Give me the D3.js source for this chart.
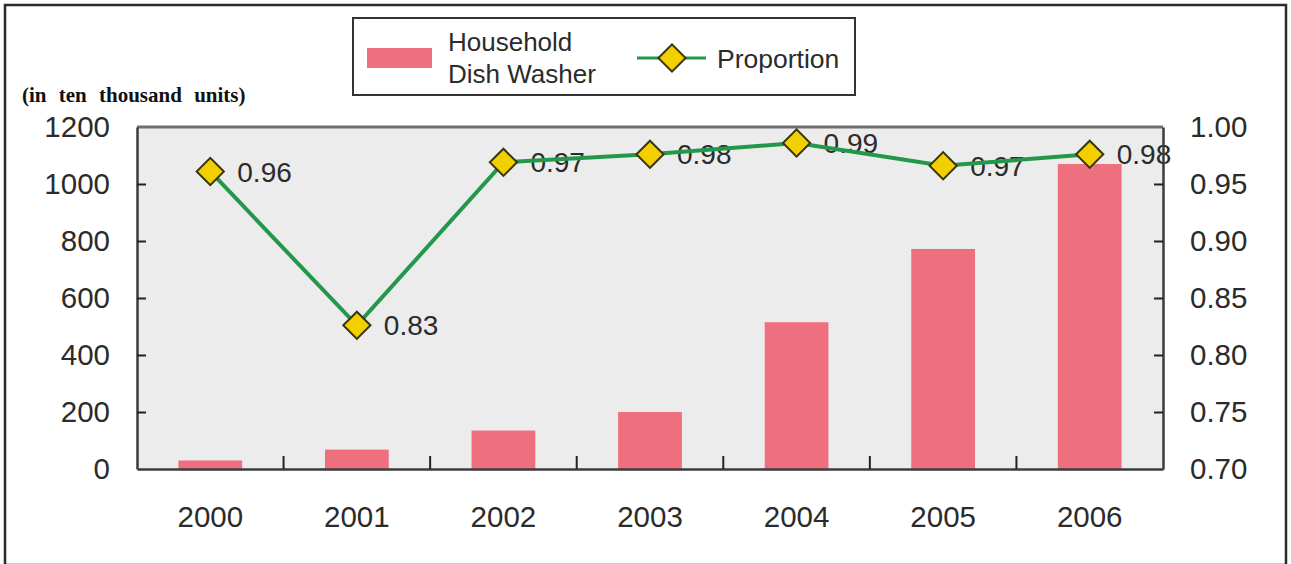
<!DOCTYPE html>
<html>
<head>
<meta charset="utf-8">
<script src="https://cdn.jsdelivr.net/npm/d3@7"></script>
<style>
  html, body { margin: 0; padding: 0; background: #fff; }
  svg { display: block; }
</style>
</head>
<body>
<svg id="chart" width="1291" height="564"></svg>
<script>
// Household dish washer output (ten thousand units) and its proportion, 2000-2006
const years = ["2000", "2001", "2002", "2003", "2004", "2005", "2006"];
const dishWasher = [30, 68, 135, 200, 515, 772, 1070];
const proportion = [0.961, 0.826, 0.969, 0.976, 0.986, 0.966, 0.976];
const leftTicks = [0, 200, 400, 600, 800, 1000, 1200];
const rightTicks = [0.70, 0.75, 0.80, 0.85, 0.90, 0.95, 1.00];

const W = 1291, H = 564;
const plot = { left: 137, right: 1163, top: 127, bottom: 469 };
const sans = "'Liberation Sans', Arial, sans-serif";
const textColor = "#2b2b2b";
const barColor = "#ee707e";
const lineColor = "#23984a";
const markerFill = "#f2d000";
const markerStroke = "#3a3410";

const svg = d3.select("#chart");

// outer frame
svg.append("rect")
  .attr("x", 5).attr("y", 5).attr("width", W - 10).attr("height", H - 4)
  .attr("fill", "#fff").attr("stroke", "#2a2a2a").attr("stroke-width", 2.5);

const x = d3.scaleBand().domain(years).range([plot.left, plot.right]).paddingInner(0.565).paddingOuter(0.2825);
const xOuter = d3.scaleBand().domain(years).range([plot.left, plot.right]);
const yL = d3.scaleLinear().domain([0, 1200]).range([plot.bottom, plot.top]);
const yR = d3.scaleLinear().domain([0.70, 1.00]).range([plot.bottom, plot.top]);

// plot background
svg.append("rect")
  .attr("x", plot.left).attr("y", plot.top)
  .attr("width", plot.right - plot.left).attr("height", plot.bottom - plot.top)
  .attr("fill", "#ececec");

// bars
svg.append("g").selectAll("rect").data(years).join("rect")
  .attr("x", d => x(d))
  .attr("width", x.bandwidth())
  .attr("y", (d, i) => yL(dishWasher[i]))
  .attr("height", (d, i) => yL(0) - yL(dishWasher[i]))
  .attr("fill", barColor);

// value labels for proportion
const fmt = d3.format(".2f");
svg.append("g").selectAll("text").data(years).join("text")
  .attr("x", d => xOuter(d) + xOuter.bandwidth() / 2 + 27)
  .attr("y", (d, i) => yR(proportion[i]))
  .attr("dy", "0.36em")
  .attr("font-family", sans).attr("font-size", 28)
  .attr("fill", textColor)
  .text((d, i) => fmt(proportion[i]));

// plot frame
svg.append("line").attr("x1", plot.left).attr("x2", plot.right).attr("y1", plot.top).attr("y2", plot.top)
  .attr("stroke", "#6e6e6e").attr("stroke-width", 3);

// left axis with inward ticks
const axisL = svg.append("g").attr("transform", `translate(${plot.left},0)`)
  .call(d3.axisLeft(yL).tickValues(leftTicks).tickFormat(d3.format("d")).tickSizeInner(-9).tickSizeOuter(0).tickPadding(27));
// right axis with inward ticks
const axisR = svg.append("g").attr("transform", `translate(${plot.right},0)`)
  .call(d3.axisRight(yR).tickValues(rightTicks).tickFormat(d3.format(".2f")).tickSizeInner(-9).tickSizeOuter(0).tickPadding(27));
// bottom axis: ticks between categories
const axisB = svg.append("g").attr("transform", `translate(0,${plot.bottom})`)
  .call(d3.axisBottom(xOuter).tickSize(0).tickPadding(37));

[axisL, axisR, axisB].forEach(g => {
  g.select(".domain").attr("stroke", "#3c3c3c").attr("stroke-width", 2.5);
  g.selectAll(".tick line").attr("stroke", "#222").attr("stroke-width", 2);
  g.selectAll(".tick text").attr("font-family", sans).attr("font-size", 29.5).attr("fill", textColor);
});
axisL.selectAll(".tick").filter(d => d === 0 || d === 1200).select("line").remove();
axisR.selectAll(".tick").filter(d => d === 0.70 || d === 1.00).select("line").remove();

svg.append("g").selectAll("line").data(years.slice(1)).join("line")
  .attr("x1", d => xOuter(d)).attr("x2", d => xOuter(d))
  .attr("y1", plot.bottom).attr("y2", plot.bottom - 13)
  .attr("stroke", "#222").attr("stroke-width", 2);

// proportion line and diamond markers
const line = d3.line()
  .x(d => xOuter(d) + xOuter.bandwidth() / 2)
  .y((d, i) => yR(proportion[i]));
svg.append("path").datum(years)
  .attr("d", line).attr("fill", "none")
  .attr("stroke", lineColor).attr("stroke-width", 4);

const diamond = d3.symbol().type(d3.symbolSquare).size(370);
svg.append("g").selectAll("path").data(years).join("path")
  .attr("d", diamond)
  .attr("transform", (d, i) => `translate(${xOuter(d) + xOuter.bandwidth() / 2},${yR(proportion[i])}) rotate(45)`)
  .attr("fill", markerFill).attr("stroke", markerStroke).attr("stroke-width", 2);

// unit note
svg.append("text")
  .attr("x", 22).attr("y", 102)
  .attr("font-family", "'Liberation Serif', 'Times New Roman', serif")
  .attr("font-weight", "bold").attr("font-size", 21)
  .attr("word-spacing", 7)
  .attr("fill", "#111")
  .text("(in ten thousand units)");

// legend
const lg = svg.append("g");
lg.append("rect").attr("x", 353).attr("y", 18).attr("width", 502).attr("height", 77)
  .attr("fill", "#fff").attr("stroke", "#333").attr("stroke-width", 2);
lg.append("rect").attr("x", 367).attr("y", 48).attr("width", 65).attr("height", 20).attr("fill", barColor);
lg.append("text").attr("x", 448).attr("y", 42).attr("dy", "0.36em")
  .attr("font-family", sans).attr("font-size", 26).attr("fill", textColor).text("Household");
lg.append("text").attr("x", 448).attr("y", 74).attr("dy", "0.36em")
  .attr("font-family", sans).attr("font-size", 26).attr("fill", textColor).text("Dish Washer");
lg.append("line").attr("x1", 637).attr("x2", 706).attr("y1", 58).attr("y2", 58)
  .attr("stroke", lineColor).attr("stroke-width", 3);
lg.append("path").attr("d", diamond)
  .attr("transform", "translate(672,58) rotate(45)")
  .attr("fill", markerFill).attr("stroke", markerStroke).attr("stroke-width", 2);
lg.append("text").attr("x", 717).attr("y", 58).attr("dy", "0.36em")
  .attr("font-family", sans).attr("font-size", 26.5).attr("fill", textColor).text("Proportion");
</script>
</body>
</html>
